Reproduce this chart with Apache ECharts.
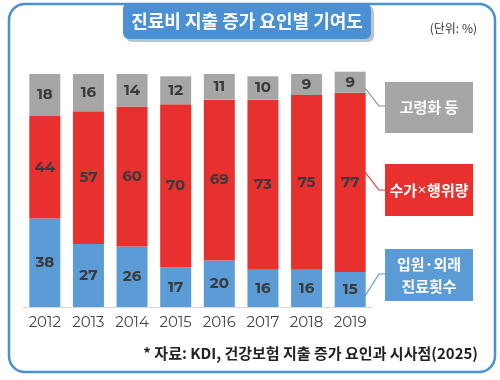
<!DOCTYPE html>
<html><head><meta charset="utf-8">
<script src="https://cdn.jsdelivr.net/npm/echarts@6/dist/echarts.min.js"></script>
<style>html,body{margin:0;padding:0;background:#fff}#c{width:500px;height:380px}</style>
</head><body><div id="c"></div>
<script>
const years = ['2012','2013','2014','2015','2016','2017','2018','2019'];
const visits = [38,27,26,17,20,16,16,15];
const priceVolume = [44,57,60,70,69,73,75,77];
const aging = [18,16,14,12,11,10,9,9];
const seriesNames = ['입원·외래\n진료횟수','수가×행위량','고령화 등'];
const titleText = '진료비 지출 증가 요인별 기여도';
const unitText = '(단위: %)';
const sourceText = '* 자료: KDI, 건강보험 지출 증가 요인과 시사점(2025)';

const BLUE = '#5b9bd6', RED = '#e8312f', GRAY = '#a6a6a6', FRAME = '#4a90d3';
const KFONT = '"Noto Sans CJK KR", "Noto Sans", sans-serif';
const NFONT = 'Montserrat, "Noto Sans", Lato, sans-serif';

const chart = echarts.init(document.getElementById('c'), null, {renderer:'canvas'});
const lbl = {show:true, position:'inside', color:'#3a3a3a', fontSize:15, fontWeight:'bold', fontFamily:NFONT};
function mk(name, data, color){
  return {name, type:'bar', stack:'s', data, barWidth:31, clip:false,
    itemStyle:{color}, label:lbl, emphasis:{disabled:true}};
}
function box(x,y,w,h,color,text){
  const parts = text.split('×');
  const rt = parts.length > 1 ? parts[0] + '{x|×}' + parts[1] : text;
  return {type:'group', children:[
    {type:'rect', shape:{x,y,width:w,height:h}, style:{fill:color}},
    {type:'text', x:x+w/2, y:y+h/2, style:{text:rt, fill:'#fff', fontSize:15, fontWeight:'bold', fontFamily:KFONT, align:'center', verticalAlign:'middle', lineHeight:22,
      rich:{x:{fontSize:10, fill:'#fff', fontWeight:'bold', fontFamily:KFONT}}}}
  ]};
}
function conn(pts,color){
  return {type:'polyline', shape:{points:pts}, style:{stroke:color, lineWidth:1.2, fill:null}};
}
chart.setOption({
  animation:false,
  grid:{left:23, right:128, top:74, bottom:73, containLabel:false},
  xAxis:{type:'category', data:years,
    axisLine:{lineStyle:{color:'#d9d9d9'}}, axisTick:{show:false},
    axisLabel:{color:'#444', fontSize:15, fontFamily:NFONT, margin:8, interval:0}},
  yAxis:{type:'value', min:0, max:100, show:false, splitLine:{show:false}},
  series:[mk(seriesNames[0],visits,BLUE), mk(seriesNames[1],priceVolume,RED), mk(seriesNames[2],aging,GRAY)],
  graphic:[
    {type:'rect', shape:{x:9, y:4, width:486, height:368, r:16}, style:{fill:null, stroke:FRAME, lineWidth:2.5}, z:-1},
    {type:'rect', shape:{x:126, y:6, width:248, height:36, r:6}, style:{fill:'#7f93a8', opacity:0.55}, z:1},
    {type:'rect', shape:{x:123, y:3, width:248, height:36, r:6}, style:{fill:FRAME}, z:2},
    {type:'text', x:247, y:21, z:3, style:{text:titleText, fill:'#fff', fontSize:18, fontWeight:'bold', fontFamily:KFONT, align:'center', verticalAlign:'middle'}},
    {type:'text', x:477, y:28, style:{text:unitText, fill:'#333', fontSize:12, fontFamily:KFONT, align:'right', verticalAlign:'middle'}},
    box(385,82,88,51,GRAY,seriesNames[2]),
    box(385,164,88,52,RED,seriesNames[1]),
    box(385,249,88,52,BLUE,seriesNames[0]),
    conn([[365,88],[379,106],[385,106]],'#8c8c8c'),
    conn([[365,172],[379,190],[385,190]],RED),
    conn([[365,296],[379,274],[385,274]],BLUE),
    {type:'text', x:478, y:353, style:{text:sourceText, fill:'#222', fontSize:15, fontWeight:'bold', fontFamily:KFONT, align:'right', verticalAlign:'middle'}}
  ]
});
</script></body></html>
